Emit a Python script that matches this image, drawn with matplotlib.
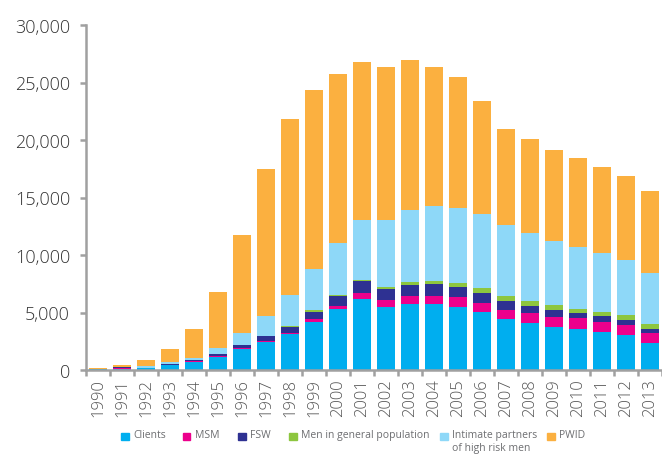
import numpy as np
import matplotlib.pyplot as plt
from matplotlib.patches import Rectangle

plt.rcParams['font.family'] = ['Open Sans', 'DejaVu Sans']

# Дані
years = [str(y) for y in range(1990, 2014)]
clients = [100, 130, 200, 460, 720, 1160, 1830, 2430, 3130, 4170, 5300, 6170,
           5510, 5740, 5740, 5510, 5040, 4430, 4090, 3740, 3570, 3300, 3040, 2350]
msm = [0, 20, 0, 0, 20, 100, 40, 120, 110, 260, 270, 530,
       580, 690, 690, 840, 790, 790, 870, 870, 950, 870, 870, 870]
fsw = [0, 70, 0, 20, 160, 160, 300, 410, 500, 610, 890, 1040,
       950, 960, 1050, 870, 870, 780, 610, 610, 440, 530, 440, 350]
men_gen = [0, 0, 0, 0, 0, 0, 0, 30, 90, 180, 90, 90,
           180, 260, 260, 350, 430, 430, 430, 430, 340, 340, 430, 430]
partners = [20, 0, 150, 190, 140, 490, 1070, 1710, 2720, 3590, 4490, 5210,
            5820, 6260, 6520, 6520, 6440, 6180, 5910, 5570, 5400, 5130, 4790, 4440]
pwid = [80, 230, 520, 1160, 2530, 4870, 8500, 12780, 15280, 15540, 14700, 13740,
        13310, 13050, 12090, 11390, 9820, 8350, 8180, 7910, 7740, 7480, 7300, 7130]

series = [clients, msm, fsw, men_gen, partners, pwid]
labels = ['Clients', 'MSM', 'FSW', 'Men in general population',
          'Intimate partners\nof high risk men', 'PWID']
colors = ['#00AEEF', '#EC008C', '#2E3192', '#8DC63F', '#8ED8F8', '#FBB040']

fig = plt.figure(figsize=(6.62, 4.56), dpi=100)
ax = fig.add_axes([86/662, 1 - 371/456, 1 - 86/662, (371 - 26)/456])

x = np.arange(len(years))
bottom = np.zeros(len(years))
for vals, col in zip(series, colors):
    ax.bar(x, vals, width=0.75, bottom=bottom, color=col, linewidth=0)
    bottom += np.array(vals)

ax.set_xlim(-0.5, len(years) - 0.5)
ax.set_ylim(0, 30000)
ax.set_yticks(np.arange(0, 30001, 5000))
ax.set_yticklabels([f'{v:,}' for v in range(0, 30001, 5000)], fontweight='light')
ax.set_xticks(x)
ax.set_xticklabels(years, rotation=90, fontweight='light')
ax.set_xticks(np.arange(-0.5, len(years), 1), minor=True)

for s in ['top', 'right']:
    ax.spines[s].set_visible(False)
for s in ['left', 'bottom']:
    ax.spines[s].set_color('#A0A0A0')
    ax.spines[s].set_linewidth(1.8)

ax.tick_params(axis='y', length=4.5, width=1.8, color='#A0A0A0', pad=7,
               labelsize=13, labelcolor='#333333')
ax.tick_params(axis='x', which='major', length=0, pad=6,
               labelsize=12, labelcolor='#555555')
ax.tick_params(axis='x', which='minor', length=4.5, width=1.8, color='#A0A0A0')

# Легенда (вручну, щоб квадрат стояв біля першого рядка)
leg_x = [121, 183, 238, 289, 440, 547]
for lx, lab, col in zip(leg_x, labels, colors):
    fig.patches.append(Rectangle((lx / 662, 1 - 441/456), 7.5/662, 7.5/456,
                                 transform=fig.transFigure, color=col))
    fig.text((lx + 12) / 662, 1 - 430/456, lab, fontsize=7.5, color='#6D6E71',
             va='top', linespacing=1.3)

fig.savefig('out.png', dpi=100)
